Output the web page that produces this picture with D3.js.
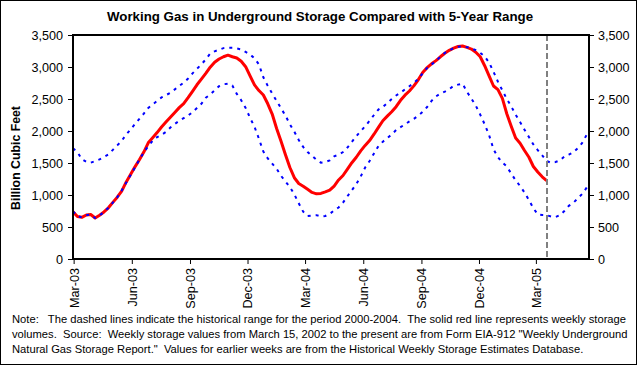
<!DOCTYPE html>
<html>
<head>
<meta charset="utf-8">
<script src="https://cdnjs.cloudflare.com/ajax/libs/d3/7.8.5/d3.min.js"></script>
<style>
  body { margin: 0; background: #fff; }
  svg { display: block; font-family: Arial, "Liberation Sans", sans-serif; }
</style>
</head>
<body>
<div id="chart"></div>
<script>
// Weekly values (Bcf), one per week starting on firstWeek
var firstWeek = "2003-02-28";
var axisEnd = "2005-05-24";
var reportWeek = "2005-03-18";

var storage = [
  739, 665, 651, 688, 695, 640, 685, 735, 800, 885,
  965, 1060, 1200, 1320, 1440, 1550, 1670, 1815, 1895, 1975,
  2063, 2140, 2215, 2290, 2365, 2427, 2520, 2620, 2722, 2810,
  2900, 2998, 3075, 3125, 3160, 3185, 3160, 3140, 3090, 3005,
  2860, 2720, 2632, 2562, 2425, 2265, 2040, 1840, 1630, 1430,
  1270, 1180, 1138, 1090, 1040, 1018, 1025, 1048, 1075, 1140,
  1235, 1305, 1405, 1505, 1590, 1690, 1775, 1850, 1950, 2056,
  2160, 2232, 2300, 2380, 2480, 2560, 2625, 2705, 2800, 2915,
  2990, 3050, 3100, 3160, 3215, 3260, 3295, 3320, 3328, 3307,
  3280, 3230, 3160, 3020, 2860, 2703, 2646, 2510, 2270, 2075,
  1890, 1810, 1695, 1590, 1445, 1360, 1285, 1224
];

var rangeMax = [
  1730, 1670, 1560, 1520, 1505, 1530, 1557, 1595, 1635, 1705,
  1775, 1845, 1945, 2022, 2110, 2190, 2272, 2360, 2415, 2470,
  2525, 2560, 2598, 2650, 2705, 2755, 2820, 2900, 2972, 3040,
  3120, 3210, 3245, 3270, 3295, 3302, 3302, 3290, 3275, 3235,
  3195, 3135, 3040, 2840, 2705, 2585, 2470, 2355, 2240, 2105,
  1990, 1860, 1750, 1670, 1610, 1550, 1505, 1515, 1540, 1605,
  1630, 1672, 1742, 1830, 1920, 1998, 2075, 2160, 2250, 2335,
  2375, 2435, 2500, 2555, 2600, 2650, 2700, 2750, 2815, 2900,
  2985, 3040, 3090, 3165, 3220, 3260, 3295, 3315, 3325, 3310,
  3295, 3262, 3222, 3165, 3070, 2925, 2770, 2635, 2500, 2385,
  2255, 2140, 2020, 1905, 1790, 1700, 1620, 1530, 1505, 1515,
  1540, 1600, 1630, 1665, 1730, 1810, 1935, 2020
];

var rangeMin = [
  745, 670, 650, 685, 692, 640, 680, 735, 800, 880,
  965, 1070, 1190, 1310, 1430, 1555, 1665, 1765, 1845, 1905,
  1940, 1985, 2055, 2110, 2160, 2200, 2240, 2295, 2360, 2425,
  2520, 2570, 2635, 2700, 2730, 2740, 2710, 2580, 2480, 2360,
  2205, 2065, 1880, 1680, 1573, 1490, 1410, 1300, 1210, 1125,
  1010, 870, 740, 672, 680, 685, 665, 672, 705, 760,
  805, 880, 980, 1075, 1170, 1290, 1430, 1530, 1650, 1765,
  1833, 1890, 1945, 2016, 2060, 2104, 2150, 2190, 2240, 2300,
  2375, 2470, 2540, 2585, 2615, 2655, 2705, 2725, 2740, 2612,
  2505, 2395, 2255, 2105, 1935, 1715, 1590, 1507, 1445, 1335,
  1230, 1140, 1040, 920, 795, 695, 687, 685, 665, 655,
  685, 750, 830, 875, 945, 1015, 1110, 1230
];

var yTicks = [0, 500, 1000, 1500, 2000, 2500, 3000, 3500];
var xTickLabels = ["Mar-03", "Jun-03", "Sep-03", "Dec-03", "Mar-04",
                   "Jun-04", "Sep-04", "Dec-04", "Mar-05"];

var title = "Working Gas in Underground Storage Compared with 5-Year Range";
var yTitle = "Billion Cubic Feet";
var noteLines = [
  "Note:   The dashed lines indicate the historical range for the period 2000-2004.  The solid red line represents weekly storage",
  "volumes.  Source:  Weekly storage values from March 15, 2002 to the present are from Form EIA-912 \"Weekly Underground",
  "Natural Gas Storage Report.\"  Values for earlier weeks are from the Historical Weekly Storage Estimates Database."
];

var W = 638, H = 366;
var plot = { left: 73, right: 589, top: 35, bottom: 259 };

var parseDay = d3.timeParse("%Y-%m-%d");
var parseTick = d3.timeParse("%b-%y");
var start = parseDay(firstWeek);
var weekDate = function(i) { return d3.timeDay.offset(start, 7 * i); };

var x = d3.scaleTime()
    .domain([start, parseDay(axisEnd)])
    .range([plot.left, plot.right]);

var y = d3.scaleLinear()
    .domain([0, 3500])
    .range([plot.bottom, plot.top]);

var svg = d3.select("#chart").append("svg")
    .attr("width", W)
    .attr("height", H);

svg.append("rect")
    .attr("width", W).attr("height", H)
    .attr("fill", "#fff");

// outer frame
svg.append("rect")
    .attr("x", 0.5).attr("y", 0.5)
    .attr("width", 636).attr("height", 364)
    .attr("fill", "none").attr("stroke", "#000");

// title
svg.append("text")
    .attr("x", 320).attr("y", 21)
    .attr("text-anchor", "middle")
    .style("font-size", "13.3px").style("font-weight", "bold")
    .text(title);

// y title
svg.append("text")
    .attr("transform", "translate(16,158) rotate(-90)")
    .attr("text-anchor", "middle")
    .attr("dy", "0.35em")
    .style("font-size", "12.3px").style("font-weight", "bold")
    .text(yTitle);

// axes
var leftAxis = d3.axisLeft(y).tickValues(yTicks).tickSize(5).tickPadding(5).tickFormat(d3.format(","));
var rightAxis = d3.axisRight(y).tickValues(yTicks).tickSize(5).tickPadding(4).tickFormat(d3.format(","));
var bottomAxis = d3.axisBottom(x)
    .tickValues(xTickLabels.map(function(d) { return parseTick(d); }))
    .tickSize(5)
    .tickFormat(d3.timeFormat("%b-%y"));

var gl = svg.append("g").attr("transform", "translate(" + plot.left + ",0)").call(leftAxis);
var gr = svg.append("g").attr("transform", "translate(" + plot.right + ",0)").call(rightAxis);
var gb = svg.append("g").attr("transform", "translate(0," + plot.bottom + ")").call(bottomAxis);

gb.selectAll("text")
    .attr("transform", "rotate(-90)")
    .attr("x", -9)
    .attr("y", 0)
    .attr("dy", "0.35em")
    .style("text-anchor", "end");

[gl, gr, gb].forEach(function(g) {
  g.select(".domain").remove();
  g.selectAll("text").style("font-size", "12.6px").style("font-family", "Arial, 'Liberation Sans', sans-serif").attr("fill", "#000");
  g.selectAll("line").attr("stroke", "#000");
});

// clip to plot area
svg.append("clipPath").attr("id", "plotClip")
  .append("rect")
    .attr("x", plot.left).attr("y", plot.top)
    .attr("width", plot.right - plot.left).attr("height", plot.bottom - plot.top);

var line = d3.line()
    .x(function(d, i) { return x(weekDate(i)); })
    .y(function(d) { return y(d); });

var lines = svg.append("g").attr("clip-path", "url(#plotClip)");

lines.append("path")
    .datum(storage)
    .attr("d", line)
    .attr("fill", "none")
    .attr("stroke", "#ff0000")
    .attr("stroke-width", 3)
    .attr("stroke-linejoin", "round");

[rangeMax, rangeMin].forEach(function(series) {
  lines.append("path")
      .datum(series)
      .attr("d", line)
      .attr("fill", "none")
      .attr("stroke", "#0000ff")
      .attr("stroke-width", 2)
      .attr("stroke-dasharray", "3,5");
});

// current week marker
var xr = Math.round(x(parseDay(reportWeek)));
svg.append("line")
    .attr("x1", xr).attr("x2", xr)
    .attr("y1", plot.top).attr("y2", plot.bottom)
    .attr("stroke", "#808080")
    .attr("stroke-width", 2)
    .attr("stroke-dasharray", "6,3");

// plot frame
svg.append("rect")
    .attr("x", plot.left).attr("y", plot.top)
    .attr("width", plot.right - plot.left).attr("height", plot.bottom - plot.top)
    .attr("fill", "none")
    .attr("stroke", "#000")
    .attr("stroke-width", 2);

// note
svg.append("g").selectAll("text")
    .data(noteLines)
    .enter().append("text")
    .attr("x", 12)
    .attr("y", function(d, i) { return 323 + i * 15; })
    .style("font-size", "11.2px")
    .attr("xml:space", "preserve")
    .style("white-space", "pre")
    .text(function(d) { return d; });
</script>
</body>
</html>
